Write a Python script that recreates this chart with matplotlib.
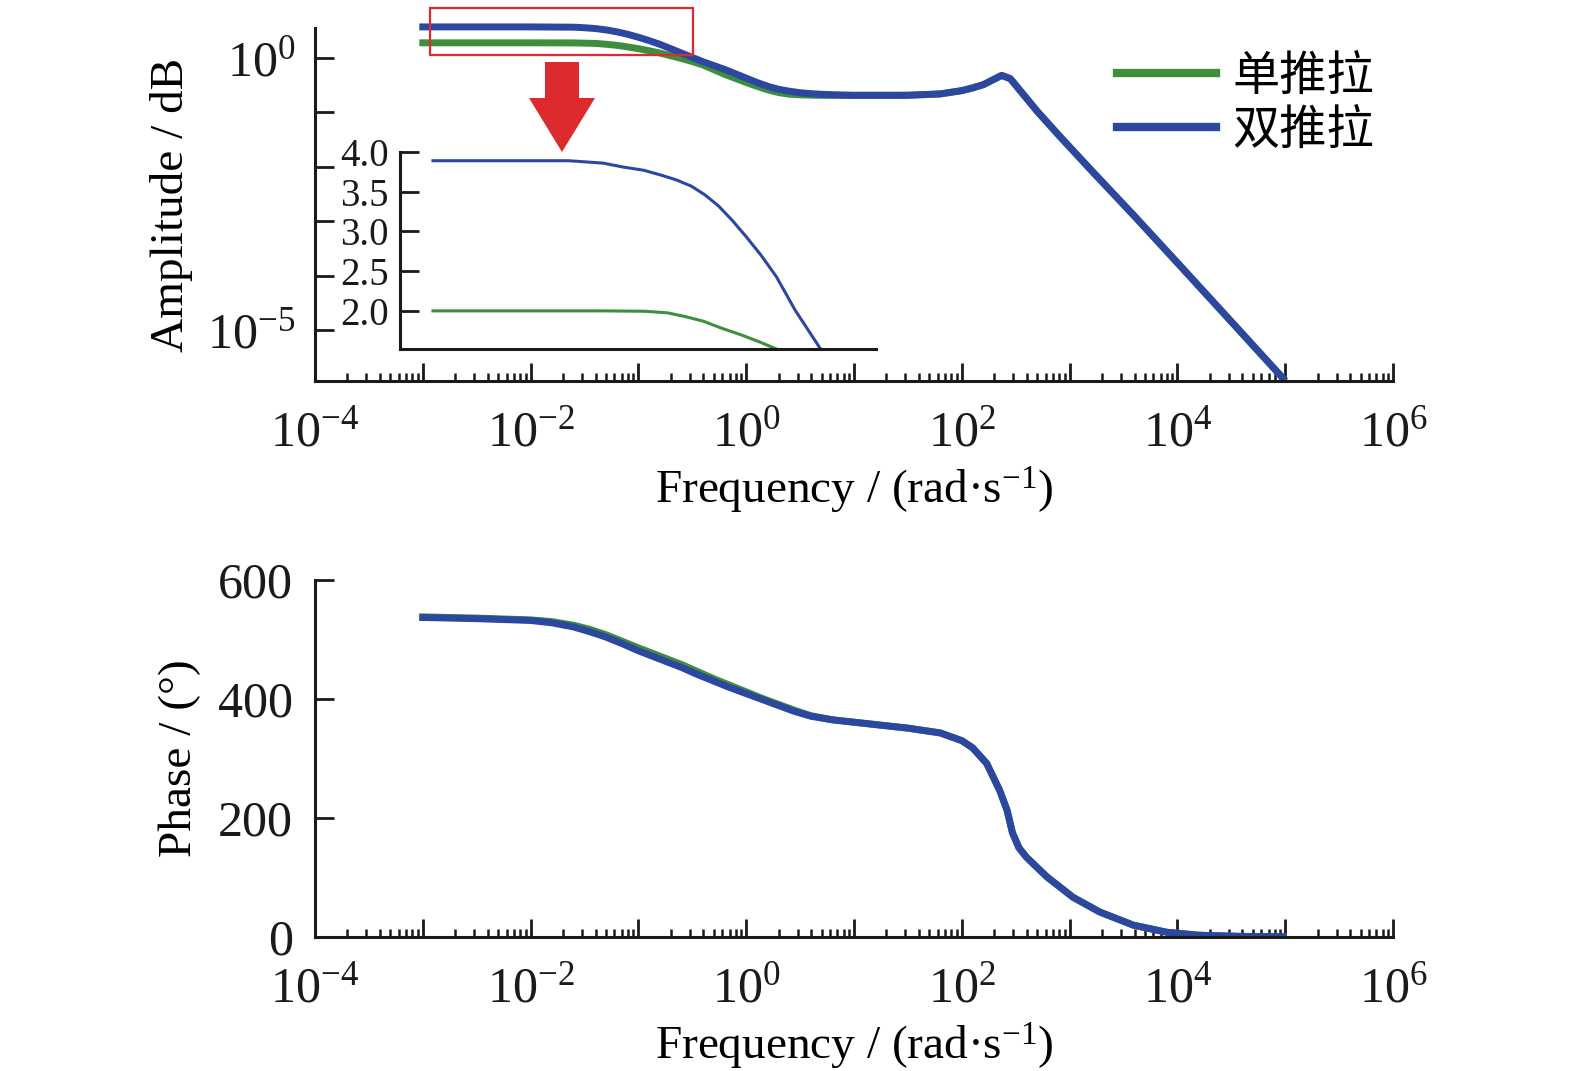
import matplotlib
matplotlib.use("Agg")
import matplotlib.pyplot as plt
import numpy as np
from matplotlib.font_manager import FontProperties
from matplotlib.lines import Line2D
from matplotlib.patches import Polygon, Rectangle
from matplotlib.ticker import FixedLocator, FuncFormatter, LogLocator, NullFormatter, NullLocator

plt.rcParams['font.family'] = ['Liberation Serif', 'Noto Sans CJK SC']
plt.rcParams['mathtext.fontset'] = 'custom'
plt.rcParams['mathtext.rm'] = 'Liberation Serif'
plt.rcParams['mathtext.it'] = 'Liberation Serif:italic'
plt.rcParams['mathtext.default'] = 'regular'

green = '#3d8f3d'
blue = '#2b479f'
red = '#dc2a2e'
labels = ['单推拉', '双推拉']

# amplitude curve as log10(freq) / log10(amplitude)
amp_freq_exp = [-3.0, -2.5, -2.0, -1.6, -1.5, -1.4, -1.3, -1.2, -1.1, -1.0, -0.9, -0.8, -0.7,
                -0.6, -0.5, -0.4, -0.3, -0.2, -0.1, 0.0, 0.1, 0.2, 0.3, 0.4, 0.5, 0.6, 0.7,
                0.8, 1.0, 1.5, 1.8, 2.0, 2.1, 2.2, 2.3, 2.37, 2.45, 2.55, 2.7, 2.9, 3.2,
                3.6, 4.0, 4.5, 4.98]
amp_single_exp = [0.278, 0.278, 0.278, 0.276, 0.272, 0.267, 0.252, 0.232, 0.203, 0.17, 0.132, 0.09, 0.04,
                  -0.01, -0.065, -0.13, -0.215, -0.30, -0.375, -0.45, -0.52, -0.585, -0.635, -0.665, -0.677,
                  -0.683, -0.686, -0.687, -0.687, -0.685, -0.66, -0.60, -0.55, -0.49, -0.39, -0.32, -0.38,
                  -0.62, -0.98, -1.42, -2.06, -2.90, -3.76, -4.84, -5.88]
amp_double_exp = [0.57, 0.57, 0.57, 0.565, 0.555, 0.54, 0.515, 0.48, 0.435, 0.38, 0.318, 0.25, 0.17,
                  0.09, 0.01, -0.07, -0.14, -0.21, -0.29, -0.37, -0.45, -0.52, -0.575, -0.61, -0.638,
                  -0.655, -0.667, -0.675, -0.685, -0.685, -0.66, -0.60, -0.55, -0.49, -0.39, -0.32, -0.38,
                  -0.62, -0.98, -1.42, -2.06, -2.90, -3.76, -4.84, -5.88]

# zoomed part of the low-frequency amplitude (inset)
zoom_double_freq_exp = [-3.0, -2.6, -2.2, -2.0, -1.88, -1.76, -1.66, -1.57, -1.48, -1.40, -1.32,
                        -1.24, -1.16, -1.07, -0.98, -0.87, -0.72]
zoom_double = [3.89, 3.89, 3.89, 3.86, 3.81, 3.77, 3.71, 3.65, 3.57, 3.46, 3.32,
               3.14, 2.94, 2.70, 2.43, 2.01, 1.52]
zoom_single_freq_exp = [-3.0, -2.0, -1.75, -1.62, -1.52, -1.41, -1.30, -1.19, -1.08, -0.98]
zoom_single = [2.0, 2.0, 1.995, 1.975, 1.93, 1.87, 1.78, 1.70, 1.61, 1.52]

# phase curve, degrees
phase_freq_exp = [-3.0, -2.5, -2.0, -1.8, -1.6, -1.45, -1.3, -1.15, -1.0, -0.8, -0.6, -0.45, -0.3,
                  -0.15, 0.0, 0.15, 0.3, 0.45, 0.6, 0.8, 1.0, 1.5, 1.8, 2.0, 2.1, 2.23, 2.35,
                  2.42, 2.47, 2.53, 2.6, 2.79, 3.03, 3.28, 3.59, 3.9, 4.2, 4.6, 4.98]
phase_single = [538, 536, 533, 530, 524, 517, 508, 497, 486, 472, 458, 446, 434,
                423, 412, 401, 391, 381, 372, 365, 361, 351, 343, 330, 318, 292, 247,
                213, 175, 150, 134, 101, 67, 42, 20, 8, 3, 1, 0.5]
phase_double = [537, 535, 532, 528, 521, 513, 504, 493, 481, 467, 453, 441, 430,
                419, 409, 399, 389, 379, 371, 365, 361, 351, 343, 330, 318, 292, 247,
                213, 175, 150, 134, 101, 67, 42, 20, 8, 3, 1, 0.5]

W, H = 1575, 1071
fig = plt.figure(figsize=(W / 100, H / 100), dpi=100)


def px_box(x0, y0, x1, y1):
    return [x0 / W, 1 - y1 / H, (x1 - x0) / W, (y1 - y0) / H]


def style_axis(ax, size=36):
    ax.spines['top'].set_visible(False)
    ax.spines['right'].set_visible(False)
    for s in ('left', 'bottom'):
        ax.spines[s].set_linewidth(2.2)
        ax.spines[s].set_color('#1a1a1a')
    ax.tick_params(which='major', direction='in', length=11, width=2.0, colors='#1a1a1a',
                   labelsize=size)
    ax.tick_params(which='minor', direction='in', length=6, width=1.8, colors='#1a1a1a')


def freq_axis(ax):
    ax.set_xscale('log')
    ax.set_xlim(1e-4, 1e6)
    ax.xaxis.set_major_locator(FixedLocator([10.0 ** k for k in range(-4, 7)]))
    ax.xaxis.set_major_formatter(FuncFormatter(
        lambda v, p: r'$10^{%d}$' % round(np.log10(v)) if round(np.log10(v)) % 2 == 0 else ''))
    ax.xaxis.set_minor_locator(LogLocator(base=10, subs=np.arange(2, 10), numticks=50))
    ax.xaxis.set_minor_formatter(NullFormatter())
    ax.tick_params(axis='x', which='major', pad=21, length=13)
    ax.set_xlabel(r'Frequency / (rad·s$^{-1}$)', fontsize=34, labelpad=6)


# ---- amplitude ----
ax1 = fig.add_axes(px_box(315, 28, 1393, 381))
style_axis(ax1)
freq_axis(ax1)
ax1.set_yscale('log')
ax1.set_ylim(10 ** -5.93, 10 ** 0.55)
ax1.yaxis.set_major_locator(FixedLocator([10.0 ** k for k in range(-5, 1)]))
ax1.yaxis.set_major_formatter(FuncFormatter(
    lambda v, p: r'$10^{%d}$' % round(np.log10(v)) if round(np.log10(v)) in (0, -5) else ''))
ax1.yaxis.set_minor_locator(NullLocator())
ax1.tick_params(axis='y', which='major', pad=14, length=14)
ax1.set_ylabel('Amplitude / dB', fontsize=34, labelpad=10)

f_amp = 10.0 ** np.array(amp_freq_exp)
ax1.plot(f_amp, 10.0 ** np.array(amp_single_exp), color=green, lw=5, clip_on=False)
ax1.plot(f_amp, 10.0 ** np.array(amp_double_exp), color=blue, lw=5, clip_on=False)

handles = [Line2D([], [], color=green, lw=6), Line2D([], [], color=blue, lw=6)]
ax1.legend(handles, labels, loc='upper left', bbox_to_anchor=(1117 / W, 1 - 52 / H),
           bbox_transform=fig.transFigure, frameon=False, borderpad=0, borderaxespad=0,
           handlelength=2.1, handletextpad=0.35, labelspacing=0.12,
           prop=FontProperties(family='Noto Sans CJK SC', size=34))

# red box marking the zoomed region and the arrow pointing to the inset
fig.patches.append(Rectangle((430 / W, 1 - 55 / H), 263 / W, 47 / H, fill=False,
                             edgecolor=red, lw=1.6, transform=fig.transFigure))
arrow_px = [(545, 62), (579, 62), (579, 98), (595, 98), (562, 152), (529, 98), (545, 98)]
fig.patches.append(Polygon([(x / W, 1 - y / H) for x, y in arrow_px], closed=True,
                           facecolor=red, edgecolor='none', transform=fig.transFigure))

# ---- inset ----
axi = fig.add_axes(px_box(400, 152, 876, 349))
style_axis(axi, size=28)
axi.set_xscale('log')
axi.set_xlim(10 ** -3.194, 10 ** -0.394)
axi.set_ylim(1.52, 4.0)
axi.set_xticks([])
axi.xaxis.set_minor_locator(NullLocator())
axi.set_yticks([2.0, 2.5, 3.0, 3.5, 4.0])
axi.yaxis.set_major_formatter(FuncFormatter(lambda v, p: '%.1f' % v))
axi.tick_params(axis='y', which='major', length=14, pad=8)
axi.patch.set_alpha(0)
axi.plot(10.0 ** np.array(zoom_single_freq_exp), zoom_single, color=green, lw=2.2)
axi.plot(10.0 ** np.array(zoom_double_freq_exp), zoom_double, color=blue, lw=2.2)

# ---- phase ----
ax2 = fig.add_axes(px_box(315, 580, 1393, 937))
style_axis(ax2)
freq_axis(ax2)
ax2.set_ylim(0, 600)
ax2.set_yticks([0, 200, 400, 600])
ax2.tick_params(axis='y', which='major', pad=16, length=14)
ax2.set_ylabel('Phase / (°)', fontsize=34, labelpad=12)

f_ph = 10.0 ** np.array(phase_freq_exp)
ax2.plot(f_ph, phase_single, color=green, lw=5)
ax2.plot(f_ph, phase_double, color=blue, lw=5)

fig.savefig('out.png', dpi=100)
